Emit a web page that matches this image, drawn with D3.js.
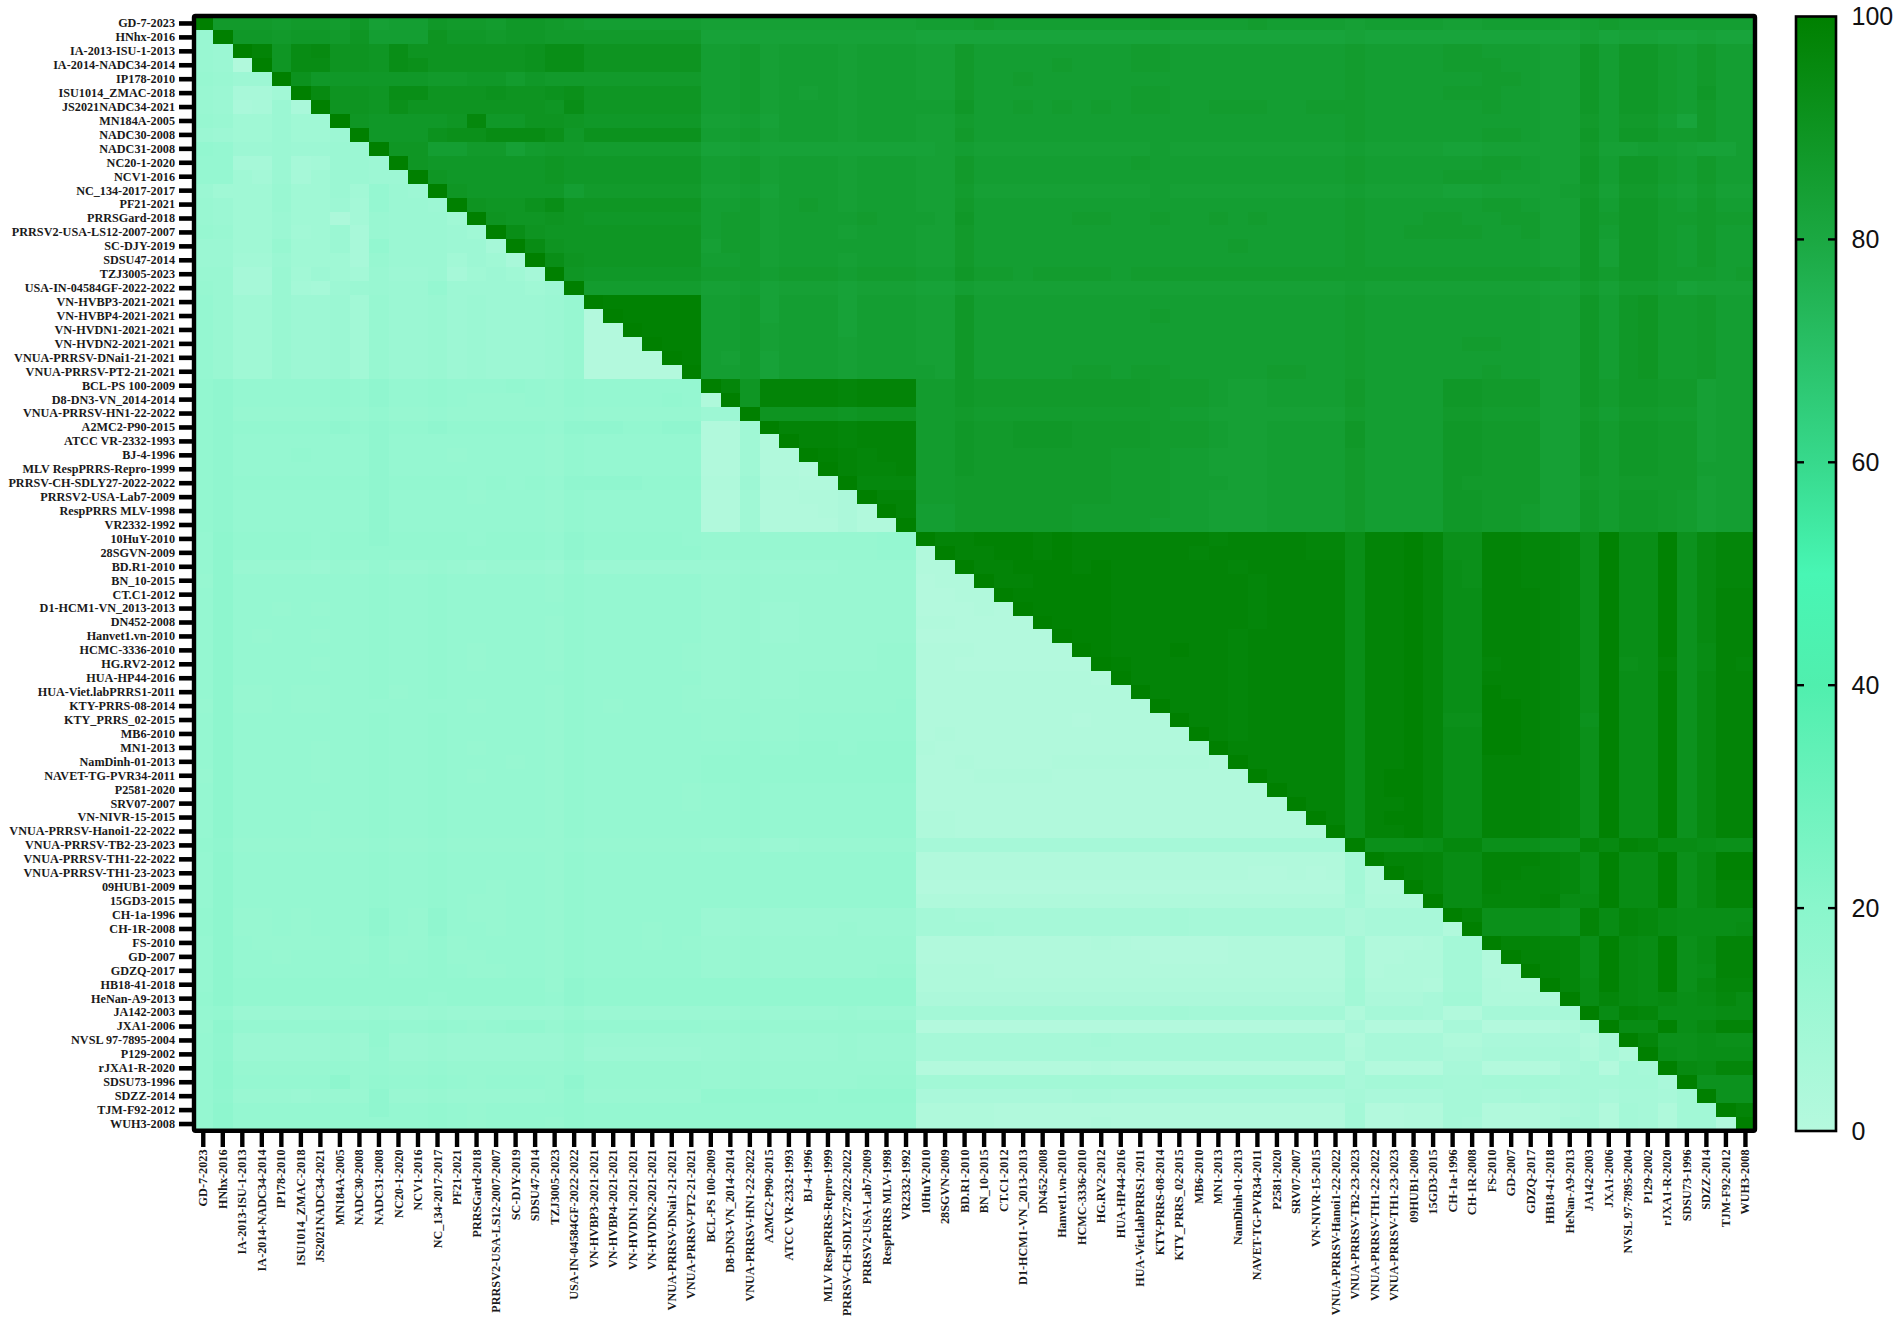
<!DOCTYPE html>
<html>
<head>
<meta charset="utf-8">
<style>
  html,body{margin:0;padding:0;background:#fff;}
  svg{display:block;}
</style>
<script src="https://cdn.jsdelivr.net/npm/d3@7/dist/d3.min.js"></script>
</head>
<body>
<div id="chart"></div>
<script>
const strains = ["GD-7-2023","HNhx-2016","IA-2013-ISU-1-2013","IA-2014-NADC34-2014","IP178-2010","ISU1014_ZMAC-2018","JS2021NADC34-2021","MN184A-2005","NADC30-2008","NADC31-2008","NC20-1-2020","NCV1-2016","NC_134-2017-2017","PF21-2021","PRRSGard-2018","PRRSV2-USA-LS12-2007-2007","SC-DJY-2019","SDSU47-2014","TZJ3005-2023","USA-IN-04584GF-2022-2022","VN-HVBP3-2021-2021","VN-HVBP4-2021-2021","VN-HVDN1-2021-2021","VN-HVDN2-2021-2021","VNUA-PRRSV-DNai1-21-2021","VNUA-PRRSV-PT2-21-2021","BCL-PS 100-2009","D8-DN3-VN_2014-2014","VNUA-PRRSV-HN1-22-2022","A2MC2-P90-2015","ATCC VR-2332-1993","BJ-4-1996","MLV RespPRRS-Repro-1999","PRRSV-CH-SDLY27-2022-2022","PRRSV2-USA-Lab7-2009","RespPRRS MLV-1998","VR2332-1992","10HuY-2010","28SGVN-2009","BD.R1-2010","BN_10-2015","CT.C1-2012","D1-HCM1-VN_2013-2013","DN452-2008","Hanvet1.vn-2010","HCMC-3336-2010","HG.RV2-2012","HUA-HP44-2016","HUA-Viet.labPRRS1-2011","KTY-PRRS-08-2014","KTY_PRRS_02-2015","MB6-2010","MN1-2013","NamDinh-01-2013","NAVET-TG-PVR34-2011","P2581-2020","SRV07-2007","VN-NIVR-15-2015","VNUA-PRRSV-Hanoi1-22-2022","VNUA-PRRSV-TB2-23-2023","VNUA-PRRSV-TH1-22-2022","VNUA-PRRSV-TH1-23-2023","09HUB1-2009","15GD3-2015","CH-1a-1996","CH-1R-2008","FS-2010","GD-2007","GDZQ-2017","HB18-41-2018","HeNan-A9-2013","JA142-2003","JXA1-2006","NVSL 97-7895-2004","P129-2002","rJXA1-R-2020","SDSU73-1996","SDZZ-2014","TJM-F92-2012","WUH3-2008"];

// Identity above the diagonal, one character per cell:
// 0-9 = 80-89, a-j = 90-99, k = 100. Each row starts at its diagonal cell.
const identityRows1to26 = [
"k7776 77684 55877 68876 555555 444 44444444 55565 55555 55655 55655 55 45555 4455554 565555555",
"k8878 87955 5a887 8877 777777 333 33333333 22222 22222 22222 22222 22 32222 2222222 423322322",
"ki9ef aa9da aaaaa bdd aaaaaa 556 45554555 44755 55555 56655 55555 55 65555 6655544 858865755",
"k9eea a9dca aaaab dd aaaaaa 556 45554555 44755 55655 56655 55555 55 65555 6665544 858865755",
"kb888 88877 88687 7 777777 556 45554555 44755 65555 55555 55555 55 65555 5566544 858865755",
"kfaa9 ddaaa baabc 999999 556 45454555 44755 55555 56655 55555 55 65555 6665544 858865855",
"kaa9c aaaaa aa9d 999999 556 45554555 55855 65656 56655 66655 66 65555 5565544 858865755",
"k9888 89g88 aa9 888888 445 35554555 44655 55555 55555 55555 55 65555 5555544 757752755",
"k888b cceee c8 bbbbbb 556 45554555 44755 55555 55555 55555 55 65555 5566544 858866755",
"k9955 77467 7 666666 334 33333333 34544 44444 44544 44444 44 54444 3344444 744554335",
"k9888 88898 888888 556 45554555 44755 55555 56555 55555 55 65555 5566544 858865755",
"k9888 8898 888888 556 45554555 44755 55555 55555 55555 55 65555 6665544 858865755",
"k9888 885 777777 445 35554555 44644 44444 44544 44444 44 54444 3344445 747754644",
"ka99b d9 999999 556 45654555 44755 55555 55555 55555 55 65555 5566544 858865755",
"ka99a 9 888888 566 45555655 54855 55566 55655 65655 55 65556 6556644 868866766",
"kda99 999999 566 45554555 44755 55555 55555 55555 55 65566 6655644 858865755",
"kea9 999999 466 45555555 44755 55555 55555 56555 55 65555 5555544 848865755",
"kda 999999 556 45554555 44755 55555 55555 55555 55 65555 5555544 848865755",
"k9 888888 666 56665666 55866 56666 56666 66666 66 66666 6666665 868866656",
"k 666666 445 34443444 33544 44444 44444 44444 44 54444 4444433 646653444",
"kjjjjj 556 35553555 44855 55555 55555 55555 55 65555 5555544 858966755",
"kjjjj 556 35553555 44855 55555 55655 55555 55 65555 5555544 858966755",
"kjjj 556 45553555 44855 55555 55555 55555 55 65555 5555544 858966755",
"kjj 556 45554555 44855 55555 55555 55555 55 65555 5665544 858966755",
"kj 546 35554555 44855 55555 55555 55555 55 65555 5555544 858966755",
"k 556 35554555 54855 55566 56655 55566 55 65555 5565544 858966755"
];
const identityRows27to37 = [
"kh9 iiiihiii 66877 77777 77666 54455 55 75555 8877744 868877455",
"k9 iiiihiii 66877 77777 77666 54455 55 75555 8877744 868877455",
"k aaaa9aaa 66766 66666 66655 44444 44 65555 7766644 757766455",
"kiiihiii 66877 88877 77666 54455 55 85555 8877744 868877455",
"kiihiii 66877 88877 77666 54455 55 85555 8877744 868877455",
"kjihii 66877 77777 66655 44455 55 75555 8877744 868877455",
"kihhi 66877 77777 66655 44455 55 75555 8877744 868877555",
"kggg 66777 77777 66655 54455 55 75555 8777744 767777455",
"kii 66777 77777 66655 44455 55 75555 8877744 868876455",
"ki 55777 77766 66655 44455 55 75555 8877644 868876455",
"k 55777 77766 66555 44455 55 75555 8877644 868876455"
];
const identityRows38to80 = [
"kiijj jijii iiiii hiiii hh diijh cciihhg cjddjbfhh",
"kiijj ijiii iiihi iiiih h diijh cciihhg cjddjbfhh",
"kiijj jijii iiiih iiiii diijh dciihhg cjddjbfhh",
"kiijj jjiii iiiih iiii diijh dciihhg cjddjbfhh",
"kjjjj jiiii iiihi iii diijh ddiiihg cjddjbfii",
"kjjjj iiiii iihii ii diijh ddiiihg cjddjbfii",
"kjjji iiiii ihiii i diijh ddiiihg cjddjbfii",
"kjjii iiiih iiiii diijh ddiiihg cjddjbfii",
"kjiii jiihi iiii diijh ddiiihg cjddjbeii",
"kjiii iihii iii diijh ddhiihg cjcdibeih",
"kiiii ihiii ii diijh ddiiihg cjddjbfii",
"kiiii hiiii i diijh ddjiihg cjddjbfii",
"kiiih iiiii diijh ddjjihg cjddjbfii",
"kiihi iiii diijh ccjjihg bjddjbfii",
"kihii iii diijh ddjjihg cjddjbfii",
"kiiii ii diijh ddjjihg cjddjbfii",
"kiiii i diijh ddiiihg cjddjbfii",
"kiiii dijjh ddiiihg cjddjbfii",
"kiii dijjh ddiiihg cjddjbfii",
"kii diijh ddiiihg cjddjbfii",
"ki dijjh ddiiihg cjddjbfii",
"k diijh ddiiihg cjddjbfii",
"kcccd ggcccbb hfiheedcc",
"kiih eeiiihg djeejcfjj",
"kih eeiihhg djeejcfjj",
"kh eeihhhg djeejcfii",
"k eehhhie ejeejcfii",
"kiccccb iehgedddd",
"kccccb iehgeddde",
"kiihh djfejceii",
"kiih djfejceii",
"kih djfejcdii",
"kh ejfejcfhh",
"k ehfefdege",
"keihdddee",
"keejdfii",
"khccdcc",
"kdcddd",
"kfehh",
"kbbb",
"kbb",
"ki",
"k"
];

const colorStops = [0, 20, 40, 50, 60, 80, 100];
const colorValues = ["#b5f9de", "#8af6cc", "#50efae", "#48f6b4", "#37d98c", "#1ba842", "#008000"];
const barTicks = [0, 20, 40, 60, 80, 100];

const decode = c => {
  if (c === "k") return 100;
  if (c >= "a" && c <= "j") return 90 + c.charCodeAt(0) - 97;
  return 80 + (+c);
};
const rows = [...identityRows1to26, ...identityRows27to37, ...identityRows38to80].map(r => r.replace(/\s/g, ""));
const bad = [];
rows.forEach((r, i) => { if (r.length !== strains.length - i) bad.push((i + 1) + ":" + r.length + "/" + (strains.length - i)); });
if (rows.length !== strains.length || bad.length) throw new Error("row length mismatch " + rows.length + " " + bad.join(" "));

const cells = [];
rows.forEach((r, i) => {
  [...r].forEach((c, k) => {
    const j = i + k, v = decode(c);
    cells.push({ row: strains[i], col: strains[j], value: v });
    if (j !== i) cells.push({ row: strains[j], col: strains[i], value: 100 - v });
  });
});

const W = 1902, H = 1327;
const svg = d3.select("#chart").append("svg").attr("width", W).attr("height", H);
svg.append("rect").attr("width", W).attr("height", H).attr("fill", "#fff");

const x = d3.scaleBand().domain(strains).range([193.5, 1755.2]);
const y = d3.scaleBand().domain(strains).range([16.5, 1131]);
const color = d3.scaleLinear().domain(colorStops).range(colorValues).interpolate(d3.interpolateRgb);

svg.append("g").selectAll("rect").data(cells).join("rect")
  .attr("x", d => x(d.col))
  .attr("y", d => y(d.row))
  .attr("width", x.bandwidth() + 0.5)
  .attr("height", y.bandwidth() + 0.5)
  .attr("fill", d => color(d.value))
  .attr("shape-rendering", "crispEdges");

// frame
svg.append("rect").attr("x", 194).attr("y", 16).attr("width", 1561).attr("height", 1114.7)
  .attr("fill", "none").attr("stroke", "#000").attr("stroke-width", 4.4).attr("rx", 1.5);

const labelFont = "'Liberation Serif','Times New Roman',serif";
const yAxis = svg.append("g").attr("transform", "translate(192,0)")
  .call(d3.axisLeft(y).tickSize(13).tickPadding(4));
yAxis.select(".domain").remove();
yAxis.selectAll("line").attr("stroke", "#000").attr("stroke-width", 4.6);
yAxis.selectAll("text").attr("font-family", labelFont).attr("font-weight", 700).attr("font-size", 12.2).attr("fill", "#1a1a1a");

const xAxis = svg.append("g").attr("transform", "translate(0,1133)")
  .call(d3.axisBottom(x).tickSize(14));
xAxis.select(".domain").remove();
xAxis.selectAll("line").attr("stroke", "#000").attr("stroke-width", 4.4);
xAxis.selectAll("text")
  .attr("font-family", labelFont).attr("font-weight", 700).attr("font-size", 12.2).attr("fill", "#1a1a1a")
  .attr("transform", "rotate(-90)").attr("text-anchor", "end")
  .attr("x", -16.5).attr("y", 0).attr("dy", "0.33em");

// colour bar
const barX0 = 1796, barX1 = 1836;
const barY = d3.scaleLinear().domain([0, 100]).range([1131, 16.5]);
const grad = svg.append("defs").append("linearGradient").attr("id", "bar")
  .attr("x1", 0).attr("x2", 0).attr("y1", 1).attr("y2", 0);
colorStops.forEach((s, i) => grad.append("stop").attr("offset", s / 100).attr("stop-color", colorValues[i]));
svg.append("rect").attr("x", barX0).attr("y", barY(100)).attr("width", barX1 - barX0)
  .attr("height", barY(0) - barY(100)).attr("fill", "url(#bar)")
  .attr("stroke", "#000").attr("stroke-width", 2.6);
const inner = svg.append("g");
barTicks.filter(t => t > 0 && t < 100).forEach(t => {
  inner.append("line").attr("x1", barX0).attr("x2", barX0 + 8).attr("y1", barY(t)).attr("y2", barY(t)).attr("stroke", "#000").attr("stroke-width", 2.4);
  inner.append("line").attr("x1", barX1 - 8).attr("x2", barX1).attr("y1", barY(t)).attr("y2", barY(t)).attr("stroke", "#000").attr("stroke-width", 2.4);
});
const barAxis = svg.append("g").attr("transform", "translate(" + barX1 + ",0)")
  .call(d3.axisRight(barY).tickValues(barTicks).tickSize(0).tickPadding(15.5));
barAxis.select(".domain").remove();
barAxis.selectAll("text").attr("font-family", "'Liberation Sans',Arial,sans-serif").attr("font-size", 25).attr("fill", "#111");
</script>
</body>
</html>
